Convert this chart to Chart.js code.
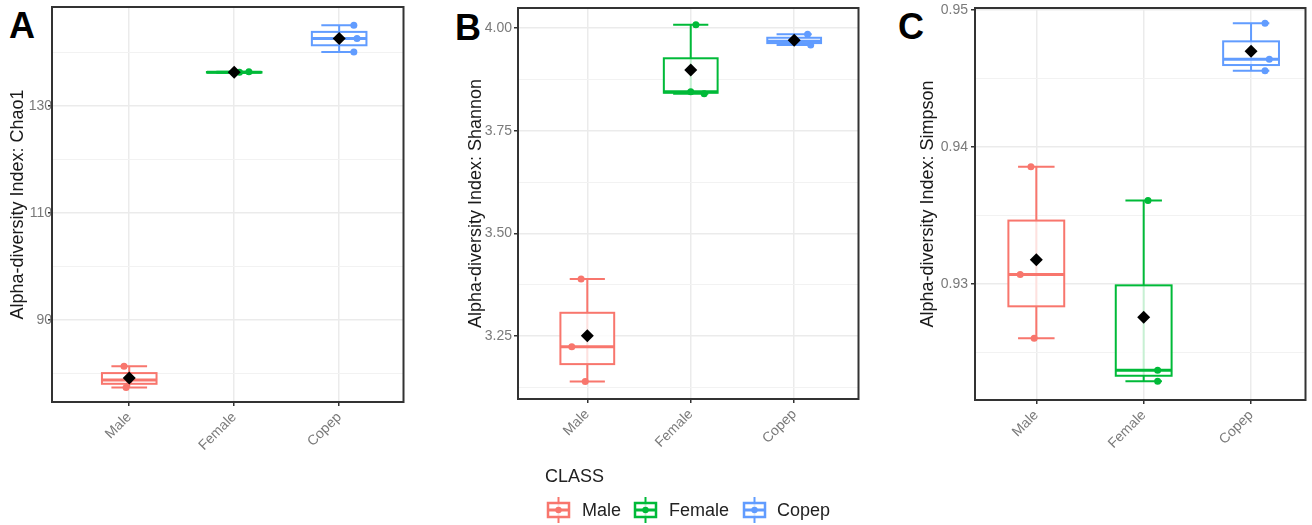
<!DOCTYPE html>
<html>
<head>
<meta charset="utf-8">
<script src="https://cdn.jsdelivr.net/npm/chart.js@4.4.1/dist/chart.umd.min.js"></script>
<style>
  body { margin: 0; width: 1312px; height: 525px; background: #fff; position: relative; overflow: hidden;
         font-family: "Liberation Sans", Arial, sans-serif; }
  canvas { position: absolute; top: 0; }
  .tag { position: absolute; font-weight: bold; font-size: 36px; line-height: 1; color: #000; }
  .leg { position: absolute; font-size: 18px; line-height: 1; color: #222; white-space: nowrap; }
  .leg-icon { position: absolute; }
</style>
</head>
<body>
<div class="tag" style="left:9px; top:8px;">A</div>
<div class="tag" style="left:455px; top:10px;">B</div>
<div class="tag" style="left:898px; top:9px;">C</div>

<canvas id="chao1" width="405" height="470" style="left:5px"></canvas>
<canvas id="shannon" width="402" height="470" style="left:463px"></canvas>
<canvas id="simpson" width="397" height="470" style="left:915px"></canvas>

<div id="legend"></div>

<script>
const classes = ['Male', 'Female', 'Copep'];
const classColors = ['#F8766D', '#00BA38', '#619CFF'];

// per-sample alpha diversity values (3 samples per class)
const chao1Male = [77.4, 78.8, 81.4];
const chao1Female = [136.2, 136.3, 136.4];
const chao1Copep = [140.1, 142.6, 145.1];

const shannonMale = [3.139, 3.224, 3.389];
const shannonFemale = [3.840, 3.845, 4.008];
const shannonCopep = [3.959, 3.968, 3.985];

const simpsonMale = [0.92604, 0.9307, 0.93856];
const simpsonFemale = [0.9229, 0.9237, 0.9361];
const simpsonCopep = [0.94557, 0.9464, 0.94903];

// horizontal jitter of the sample dots, in category units
const chao1Jitter = [[-0.03, 0, -0.05], [0, 0.05, 0.14], [0.14, 0.17, 0.14]];
const shannonJitter = [[-0.02, -0.15, -0.06], [0.13, 0, 0.05], [0.16, 0.02, 0.13]];
const simpsonJitter = [[-0.02, -0.15, -0.05], [0.13, 0.13, 0.04], [0.13, 0.17, 0.13]];

// y axis ticks: labelled majors and unlabelled minor grid lines
const chao1Ticks = [90, 110, 130];
const chao1Labels = ['90', '110', '130'];
const chao1Minor = [80, 100, 120, 140];
const shannonTicks = [3.25, 3.5, 3.75, 4.0];
const shannonLabels = ['3.25', '3.50', '3.75', '4.00'];
const shannonMinor = [3.125, 3.375, 3.625, 3.875];
const simpsonTicks = [0.93, 0.94, 0.95];
const simpsonLabels = ['0.93', '0.94', '0.95'];
const simpsonMinor = [0.925, 0.935, 0.945];

const BOX_WIDTH = 0.52;
const CAP_WIDTH = 0.34;
const TICK_COLOR = '#7a7a7a';
const TEXT_COLOR = '#1a1a1a';

Chart.defaults.font.family = '"Liberation Sans", Arial, sans-serif';

// type 7 quantile, same as R's default
function quantile(sorted, p) {
  const h = (sorted.length - 1) * p;
  const lo = Math.floor(h);
  const hi = Math.min(lo + 1, sorted.length - 1);
  return sorted[lo] + (h - lo) * (sorted[hi] - sorted[lo]);
}

function boxStats(values) {
  const s = values.slice().sort((a, b) => a - b);
  return {
    min: s[0], max: s[s.length - 1],
    q1: quantile(s, 0.25), median: quantile(s, 0.5), q3: quantile(s, 0.75),
    mean: s.reduce((a, b) => a + b, 0) / s.length
  };
}

// errorbar + box for each class, drawn under the dots
function boxPlugin(groups) {
  return {
    id: 'boxes',
    beforeDatasetsDraw(chart) {
      const { ctx, scales: { x, y } } = chart;
      groups.forEach((vals, i) => {
        const st = boxStats(vals);
        const color = classColors[i];
        const cx = x.getPixelForValue(i + 1);
        const half = x.getPixelForValue(i + 1 + BOX_WIDTH / 2) - cx;
        const capHalf = x.getPixelForValue(i + 1 + CAP_WIDTH / 2) - cx;
        const yMin = y.getPixelForValue(st.min);
        const yMax = y.getPixelForValue(st.max);
        const yQ1 = y.getPixelForValue(st.q1);
        const yQ3 = y.getPixelForValue(st.q3);
        const yMed = y.getPixelForValue(st.median);

        ctx.save();
        ctx.strokeStyle = color;
        ctx.lineWidth = 2;
        ctx.beginPath();
        ctx.moveTo(cx, yMin); ctx.lineTo(cx, yMax);
        ctx.moveTo(cx - capHalf, yMin); ctx.lineTo(cx + capHalf, yMin);
        ctx.moveTo(cx - capHalf, yMax); ctx.lineTo(cx + capHalf, yMax);
        ctx.stroke();

        ctx.fillStyle = 'rgba(255,255,255,0.78)';
        ctx.fillRect(cx - half, yQ3, half * 2, yQ1 - yQ3);
        ctx.strokeRect(cx - half, yQ3, half * 2, yQ1 - yQ3);
        ctx.lineWidth = 3;
        ctx.beginPath();
        ctx.moveTo(cx - half, yMed); ctx.lineTo(cx + half, yMed);
        ctx.stroke();
        ctx.restore();
      });
    }
  };
}

const borderPlugin = {
  id: 'panelBorder',
  afterDraw(chart) {
    const { ctx, chartArea: a } = chart;
    ctx.save();
    ctx.strokeStyle = '#333';
    ctx.lineWidth = 2;
    ctx.strokeRect(a.left, a.top, a.right - a.left, a.bottom - a.top);
    ctx.restore();
  }
};

function makePanel(id, opts) {
  const { groups, jitter, ticks, labels, minor, title, layout } = opts;

  const meanSet = {
    data: groups.map((vals, i) => ({ x: i + 1, y: boxStats(vals).mean })),
    pointStyle: 'rectRot',
    pointRadius: 6.5,
    backgroundColor: '#000',
    borderWidth: 0
  };
  const dotSets = groups.map((vals, i) => ({
    data: vals.map((v, k) => ({ x: i + 1 + jitter[i][k], y: v })),
    pointRadius: 3.5,
    backgroundColor: classColors[i],
    borderWidth: 0
  }));

  const isMajor = v => ticks.some(t => Math.abs(t - v) < 1e-9);

  return new Chart(document.getElementById(id), {
    type: 'scatter',
    data: { datasets: [meanSet, ...dotSets] },
    options: {
      responsive: false,
      animation: false,
      devicePixelRatio: 1,
      layout: { padding: { top: layout.top, right: 3, left: 0, bottom: 0 } },
      plugins: { legend: { display: false }, tooltip: { enabled: false } },
      scales: {
        x: {
          type: 'linear',
          min: layout.xMin,
          max: layout.xMax,
          afterBuildTicks: scale => { scale.ticks = classes.map((c, i) => ({ value: i + 1 })); },
          afterFit: scale => {
            scale.height = layout.xHeight;
            scale.paddingLeft = 0; scale.paddingRight = 0;
          },
          ticks: {
            callback: (v) => classes[Math.round(v) - 1],
            maxRotation: 45, minRotation: 45,
            color: TICK_COLOR,
            font: { size: 14 },
            padding: 3
          },
          grid: { color: '#ebebeb', lineWidth: 1.5, tickColor: '#333', tickLength: 4, tickWidth: 1.5 },
          border: { display: false }
        },
        y: {
          type: 'linear',
          min: layout.yMin,
          max: layout.yMax,
          bounds: 'data',
          afterBuildTicks: scale => {
            scale.ticks = ticks.concat(minor).sort((a, b) => a - b).map(v => ({ value: v }));
          },
          afterFit: scale => {
            scale.width = layout.yWidth;
            scale.paddingTop = 0; scale.paddingBottom = 0;
          },
          ticks: {
            callback: (v) => {
              const k = ticks.findIndex(t => Math.abs(t - v) < 1e-9);
              return k >= 0 ? labels[k] : '';
            },
            color: TICK_COLOR,
            font: { size: 14 },
            padding: layout.labelPad
          },
          grid: {
            color: ctx => isMajor(ctx.tick.value) ? '#ebebeb' : '#f2f2f2',
            lineWidth: ctx => isMajor(ctx.tick.value) ? 1.5 : 1,
            tickColor: ctx => isMajor(ctx.tick.value) ? '#333' : 'rgba(0,0,0,0)',
            tickLength: 4,
            tickWidth: 1.5
          },
          border: { display: false },
          title: {
            display: true,
            text: title,
            color: TEXT_COLOR,
            font: { size: 18 },
            padding: { top: 2, bottom: 0 }
          }
        }
      }
    },
    plugins: [boxPlugin(groups), borderPlugin]
  });
}

makePanel('chao1', {
  groups: [chao1Male, chao1Female, chao1Copep],
  jitter: chao1Jitter,
  ticks: chao1Ticks, labels: chao1Labels, minor: chao1Minor,
  title: 'Alpha-diversity Index: Chao1',
  layout: { top: 7, yWidth: 47, xHeight: 68, yMin: 74.7, yMax: 148.5, xMin: 0.264, xMax: 3.613, labelPad: -4 }
});

makePanel('shannon', {
  groups: [shannonMale, shannonFemale, shannonCopep],
  jitter: shannonJitter,
  ticks: shannonTicks, labels: shannonLabels, minor: shannonMinor,
  title: 'Alpha-diversity Index: Shannon',
  layout: { top: 8, yWidth: 55, xHeight: 71, yMin: 3.0965, yMax: 4.049, xMin: 0.33, xMax: 3.622, labelPad: 2 }
});

makePanel('simpson', {
  groups: [simpsonMale, simpsonFemale, simpsonCopep],
  jitter: simpsonJitter,
  ticks: simpsonTicks, labels: simpsonLabels, minor: simpsonMinor,
  title: 'Alpha-diversity Index: Simpson',
  layout: { top: 8, yWidth: 60, xHeight: 70, yMin: 0.92153, yMax: 0.95015, xMin: 0.429, xMax: 3.507, labelPad: 3 }
});

// legend: title plus one boxplot glyph per class
const legend = document.getElementById('legend');
const legendTitle = document.createElement('div');
legendTitle.className = 'leg';
legendTitle.style.left = '545px';
legendTitle.style.top = '467px';
legendTitle.textContent = 'CLASS';
legend.appendChild(legendTitle);

const iconLeft = [546, 633, 742];
const labelLeft = [582, 669, 777];
classes.forEach((name, i) => {
  const c = classColors[i];
  const icon = document.createElement('div');
  icon.className = 'leg-icon';
  icon.style.left = iconLeft[i] + 'px';
  icon.style.top = '497px';
  icon.innerHTML =
    '<svg width="25" height="26" viewBox="0 0 25 26">' +
    '<line x1="12.5" y1="0" x2="12.5" y2="26" stroke="' + c + '" stroke-width="2"/>' +
    '<rect x="2" y="6" width="21" height="14" fill="#fff" fill-opacity="0.8" stroke="' + c + '" stroke-width="2.5"/>' +
    '<line x1="2" y1="13" x2="23" y2="13" stroke="' + c + '" stroke-width="3"/>' +
    '<circle cx="12.5" cy="13" r="3.2" fill="' + c + '"/>' +
    '</svg>';
  legend.appendChild(icon);

  const label = document.createElement('div');
  label.className = 'leg';
  label.style.left = labelLeft[i] + 'px';
  label.style.top = '501px';
  label.textContent = name;
  legend.appendChild(label);
});
</script>
</body>
</html>
